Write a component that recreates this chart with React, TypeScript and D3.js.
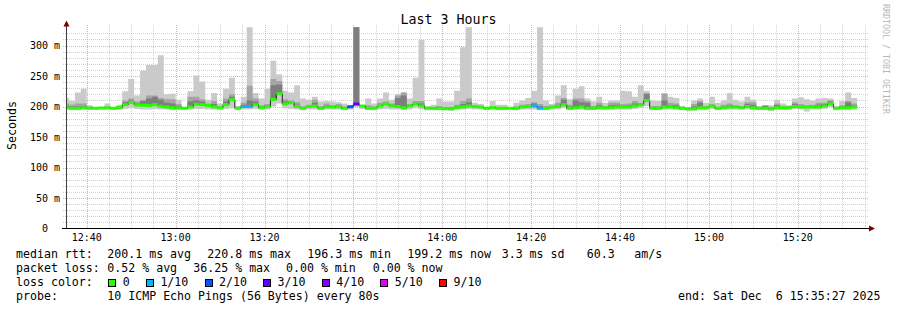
import React from 'react';
import * as d3 from 'd3';

// ---------- data ----------
const STEP_MS = 80 * 1000;
const windowStart = new Date(2025, 11, 6, 12, 35, 27);
const windowEnd = new Date(2025, 11, 6, 15, 35, 27);
const firstStepStart = new Date(2025, 11, 6, 12, 34, 40);

// median rtt per 80 s step (ms)
const medianRtt = [
  198, 197, 197, 198, 197, 197, 197.5, 198, 197, 198,
  203, 206.5, 202.5, 202, 201.5, 203, 200.5, 199, 198, 197.5,
  197, 199, 203.7, 203, 201.5, 199, 198, 203, 211, 197,
  200, 200, 203, 198, 199.5, 211.5, 220.8, 204, 206, 200,
  197, 200, 201, 197, 199.5, 199, 199.5, 197, 199.5, 204,
  201, 197, 197, 201, 204, 201, 200, 198, 201, 204,
  201, 197, 197, 197, 196.3, 196.3, 198, 199, 201, 200,
  199, 197, 198, 197, 197, 197, 197, 199, 200, 201,
  197, 197, 199, 200, 203, 197, 198, 199, 197, 197,
  198, 198, 198, 199, 199, 199, 201, 203, 210, 197,
  197, 199, 199, 198, 197, 196.3, 196.3, 198, 198, 201,
  197, 198, 199, 199, 198, 200, 198, 197, 197, 196.3,
  198, 198, 198, 200, 199, 199, 199, 199, 201, 204,
  197, 198, 198, 199.2,
];
// highest ping of the step (top of the lightest smoke)
const pingMax = [
  214, 209, 223, 229, 202, 199, 199, 205, 199, 203,
  225, 245, 218, 259, 268, 268, 284, 220, 221, 211,
  199, 225, 251, 241, 211, 222, 205, 229, 247, 201,
  216, 335, 222, 213, 229, 275, 253, 226, 223, 235,
  213, 211, 216, 208, 209, 208, 207, 205, 202, 335,
  202, 213, 205, 213, 223, 211, 220, 223, 213, 247,
  309, 201, 203, 213, 208, 208, 226, 297, 335, 206,
  204, 199, 209, 203, 203, 199, 206, 210, 214, 226,
  335, 210, 204, 218, 235, 212, 229, 233, 213, 208,
  216, 206, 210, 210, 226, 225, 216, 235, 226, 210,
  209, 222, 216, 214, 201, 199, 210, 213, 206, 216,
  206, 210, 222, 211, 208, 216, 211, 201, 202, 202,
  211, 205, 202, 213, 215, 212, 210, 213, 214, 213,
  201, 209, 223, 214,
];
// 9th ping (top of the mid-grey smoke)
const pingP9 = [
  205, 203, 205, 205, 200, 199, 199, 200, 199, 200,
  210, 213, 208, 211, 218, 218, 214, 212, 212, 204,
  199, 216, 216, 212, 205, 209, 201, 213, 220, 199,
  206, 234, 213, 202, 204, 245, 242, 212, 210, 207,
  200, 203, 211, 200, 205, 202, 204, 200, 200, 335,
  200, 202, 200, 206, 208, 205, 218, 223, 204, 209,
  209, 199, 199, 201, 199, 199, 203, 209, 213, 201,
  201, 198, 201, 199, 199, 198, 200, 203, 204, 207,
  204, 201, 201, 206, 214, 203, 213, 213, 209, 201,
  206, 201, 206, 206, 204, 205, 209, 206, 222, 201,
  201, 221, 206, 205, 199, 198, 204, 209, 201, 204,
  199, 203, 205, 202, 201, 207, 207, 199, 202, 199,
  205, 201, 200, 207, 204, 202, 203, 206, 206, 210,
  199, 202, 209, 205,
];
// 8th ping (top of the dark smoke)
const pingP8 = [
  201, 200, 200, 201, 199, 198, 198, 199, 198, 199,
  207, 210, 205, 209, 213, 216, 211, 206, 205, 201,
  198, 208, 210, 208, 203, 204, 199, 208, 216, 198,
  203, 210, 208, 200, 202, 235, 236, 208, 208, 203,
  199, 201, 206, 198, 202, 200, 201, 198, 200, 335,
  201, 199, 198, 203, 206, 203, 214, 218, 202, 206,
  205, 198, 198, 199, 198, 198, 201, 204, 207, 200,
  200, 197, 199, 198, 198, 197, 198, 201, 202, 205,
  201, 199, 200, 203, 211, 200, 210, 207, 206, 199,
  202, 199, 202, 203, 201, 202, 205, 204, 220, 199,
  199, 210, 202, 202, 198, 197, 200, 206, 199, 202,
  198, 200, 202, 200, 199, 204, 203, 198, 201, 198,
  202, 199, 199, 204, 201, 200, 201, 203, 204, 208,
  198, 200, 207, 202,
];
// lowest ping of the step
const pingMin = [
  195, 195, 194, 195, 195, 195, 195, 195, 195, 195,
  196, 197, 196, 195, 195, 196, 195, 195, 194, 195,
  195, 195, 196, 196, 195, 195, 195, 196, 197, 194,
  195, 195, 196, 195, 195, 200, 205, 197, 196, 195,
  194, 195, 195, 194, 195, 195, 195, 194, 195, 199,
  196, 194, 194, 195, 196, 195, 195, 194, 195, 197,
  195, 194, 194, 194, 194, 193, 195, 195, 196, 195,
  195, 194, 195, 194, 194, 195, 194, 195, 195, 195,
  194, 194, 195, 195, 197, 194, 195, 195, 194, 194,
  195, 195, 195, 195, 195, 195, 196, 197, 201, 194,
  194, 195, 195, 195, 194, 193, 193, 195, 195, 196,
  194, 195, 195, 195, 195, 195, 194, 194, 194, 193,
  195, 195, 195, 196, 195, 192, 195, 195, 196, 199,
  194, 195, 194, 195,
];
// lost pings out of 10
const lossCount = [
  0, 0, 0, 0, 0, 0, 0, 0, 0, 0,
  0, 0, 0, 0, 0, 0, 0, 0, 0, 0,
  0, 0, 0, 0, 0, 0, 0, 0, 0, 0,
  1, 1, 0, 0, 0, 0, 0, 0, 0, 0,
  0, 0, 0, 0, 0, 0, 0, 0, 2, 3,
  0, 0, 0, 0, 0, 0, 0, 0, 0, 0,
  0, 0, 0, 0, 0, 0, 0, 0, 0, 0,
  0, 0, 0, 0, 0, 0, 0, 0, 0, 1,
  1, 0, 0, 0, 0, 0, 0, 0, 0, 0,
  0, 0, 0, 0, 0, 0, 0, 0, 0, 0,
  0, 0, 0, 0, 0, 0, 0, 0, 0, 0,
  0, 0, 0, 0, 0, 0, 0, 0, 0, 0,
  0, 0, 0, 0, 0, 0, 0, 0, 0, 0,
  0, 0, 0, 0,
];

const yTickValues = [0, 50, 100, 150, 200, 250, 300];
const yTickNumbers = ['0', '50', '100', '150', '200', '250', '300'];
const yTickUnits = ['', 'm', 'm', 'm', 'm', 'm', 'm'];

const lossThresholds = [0, 1, 2, 3, 4, 5, 9];
const lossLabels = ['0', '1/10', '2/10', '3/10', '4/10', '5/10', '9/10'];
const lossColors = ['#26ff00', '#00b8ff', '#0059ff', '#5e00ff', '#7e00ff', '#dd00ff', '#ff0000'];

const titleText = 'Last 3 Hours';
const yAxisTitle = 'Seconds';
const watermark = 'RRDTOOL / TOBI OETIKER';
const legendRow1 = [
  ['median rtt:', 16], ['200.1 ms avg', 107.3], ['220.8 ms max', 207.3], ['196.3 ms min', 307.3],
  ['199.2 ms now', 407.3], ['3.3 ms sd', 501.7], ['60.3', 586.7], ['am/s', 634.3],
] as [string, number][];
const legendRow2 = [
  ['packet loss:', 16], ['0.52 % avg', 107.3], ['36.25 % max', 193.3], ['0.00 % min', 286], ['0.00 % now', 372.7],
] as [string, number][];
const probeText = '10 ICMP Echo Pings (56 Bytes) every 80s';
const endText = 'end: Sat Dec  6 15:35:27 2025';

// ---------- layout ----------
const W = 897;
const H = 310;
const X0 = 66.5;
const X1 = 866.5;
const Y0 = 228.5;
const PX_PER_MS = 0.61;
const Y_MAX = 330;
const MONO = "'DejaVu Sans Mono', monospace";

function lossColor(l: number) {
  let idx = 0;
  lossThresholds.forEach((t, i) => { if (l >= t) idx = i; });
  return lossColors[idx];
}

export default function App() {
  const x = d3.scaleTime().domain([windowStart, windowEnd]).range([X0, X1]);
  const y = d3.scaleLinear().domain([0, Y_MAX]).range([Y0, Y0 - Y_MAX * PX_PER_MS]);
  const yTop = y(Y_MAX);

  const n = medianRtt.length;
  const pts = medianRtt.map((m, i) => ({
    t: new Date(firstStepStart.getTime() + i * STEP_MS),
    med: m, max: pingMax[i], p9: pingP9[i], p8: pingP8[i], min: pingMin[i], loss: lossCount[i],
  }));
  const ptsEnd = [...pts, { ...pts[n - 1], t: new Date(firstStepStart.getTime() + n * STEP_MS) }];

  const areaGen = (lo: (d: any) => number, hi: (d: any) => number) =>
    d3.area<any>().curve(d3.curveStepAfter).x((d) => x(d.t)).y0((d) => y(lo(d))).y1((d) => y(hi(d)))(ptsEnd) || '';
  const band1 = areaGen((d) => d.min, (d) => d.max);
  const band2 = areaGen((d) => d.med, (d) => d.p9);
  const band3 = areaGen((d) => d.med, (d) => d.p8);
  const medLine = d3.line<any>().curve(d3.curveStepAfter).x((d) => x(d.t)).y((d) => y(d.med))(ptsEnd) || '';

  const minorH = d3.range(10, 330, 10).filter((v) => v % 50 !== 0);
  const majorH = [50, 100, 150, 200, 250, 300];
  const fiveMin = d3.timeMinute.every(5)!.range(windowStart, windowEnd);
  const majorV = fiveMin.filter((d) => d.getMinutes() % 20 === 0);
  const minorV = fiveMin.filter((d) => d.getMinutes() % 20 !== 0);
  const fmt = d3.timeFormat('%H:%M');

  // legend boxes layout
  let lx = 108.3;
  const lossItems = lossLabels.map((lab, i) => {
    const item = { bx: lx, tx: lx + 14.4, lab, col: lossColors[i] };
    lx = item.tx + lab.length * 6.98 + 16.3;
    return item;
  });

  return (
    <svg width={W} height={H} style={{ position: 'absolute', left: 0, top: 0, background: '#fff' }}
      fontFamily={MONO}>
      <defs>
        <clipPath id="plotClip">
          <rect x={X0} y={yTop} width={X1 - X0} height={Y0 - yTop} />
        </clipPath>
      </defs>
      <rect x={0} y={0} width={W} height={H} fill="#fff" />

      {/* grid */}
      <g shapeRendering="crispEdges">
        {minorH.map((v) => (
          <line key={'mh' + v} x1={63} x2={868} y1={Math.round(y(v)) + 0.5} y2={Math.round(y(v)) + 0.5}
            stroke="#8c8c8c" strokeOpacity={0.4} strokeDasharray="1,1" />
        ))}
        {minorV.map((d) => (
          <line key={'mv' + d.getTime()} x1={Math.round(x(d)) + 0.5} x2={Math.round(x(d)) + 0.5} y1={25} y2={228}
            stroke="#8c8c8c" strokeOpacity={0.4} strokeDasharray="1,1" />
        ))}
        {majorH.map((v) => (
          <line key={'Mh' + v} x1={63} x2={868} y1={Math.round(y(v)) + 0.5} y2={Math.round(y(v)) + 0.5}
            stroke="#f58080" strokeOpacity={0.7} strokeDasharray="1,1" />
        ))}
        {majorV.map((d) => (
          <line key={'Mv' + d.getTime()} x1={Math.round(x(d)) + 0.5} x2={Math.round(x(d)) + 0.5} y1={25} y2={228}
            stroke="#f58080" strokeOpacity={0.7} strokeDasharray="1,1" />
        ))}
      </g>

      {/* smoke and median */}
      <g clipPath="url(#plotClip)">
        <path d={band1} fill="#cacaca" />
        <path d={band2} fill="#a4a4a4" />
        <path d={band3} fill="#7e7e7e" />
        <path d={medLine} fill="none" stroke="#202020" strokeWidth={1} />
        {pts.map((d, i) => (
          <line key={'m' + i} x1={x(d.t)} x2={x(ptsEnd[i + 1].t)} y1={y(d.med)} y2={y(d.med)}
            stroke={lossColor(d.loss)} strokeWidth={3} />
        ))}
      </g>

      {/* axes */}
      <g shapeRendering="crispEdges">
        <line x1={X0} x2={X0} y1={Y0} y2={23} stroke="#404040" />
        <line x1={62} x2={869} y1={Y0} y2={Y0} stroke="#000" />
      </g>
      <polygon points={`${X0 - 3},${26.5} ${X0 + 3},${26.5} ${X0},${20.5}`} fill="#7f0000" />
      <polygon points={`${869},${Y0 - 3} ${869},${Y0 + 3} ${875},${Y0}`} fill="#7f0000" />

      {/* y tick labels */}
      {yTickValues.map((v, i) => (
        <g key={'yl' + v}>
          <text x={48} y={y(v) + 3.6} fontSize={10} textAnchor="end" fill="#000">{yTickNumbers[i]}</text>
          {yTickUnits[i] && (
            <text x={54} y={y(v) + 3.6} fontSize={10} fill="#000">{yTickUnits[i]}</text>
          )}
        </g>
      ))}
      {/* x tick labels */}
      {majorV.map((d) => (
        <text key={'xl' + d.getTime()} x={x(d)} y={241} fontSize={10} textAnchor="middle" fill="#000">{fmt(d)}</text>
      ))}

      {/* titles */}
      <text x={448.5} y={24} fontSize={13.3} textAnchor="middle" fill="#000">{titleText}</text>
      <text transform="translate(15.5,125.5) rotate(-90)" fontSize={11.6} textAnchor="middle" fill="#000">{yAxisTitle}</text>
      <text transform="translate(883,4) rotate(90)" fontSize={8.3} fill="#b8b8b8">{watermark}</text>

      {/* legend */}
      <g fontSize={11.6} fill="#000">
        {legendRow1.map(([t, px]) => (
          <text key={'r1' + t} x={px} y={258}>{t}</text>
        ))}
        {legendRow2.map(([t, px]) => (
          <text key={'r2' + t} x={px} y={272}>{t}</text>
        ))}
        <text x={16} y={286}>loss color:</text>
        {lossItems.map((it) => (
          <g key={'lc' + it.lab}>
            <rect x={Math.round(it.bx) + 0.5} y={279.5} width={7} height={7} fill={it.col} stroke="#000" strokeWidth={1} shapeRendering="crispEdges" />
            <text x={it.tx} y={286}>{it.lab}</text>
          </g>
        ))}
        <text x={16} y={300}>probe:</text>
        <text x={107.3} y={300}>{probeText}</text>
        <text x={880.5} y={300} textAnchor="end" xmlSpace="preserve" style={{ whiteSpace: 'pre' }}>{endText}</text>
      </g>
    </svg>
  );
}
